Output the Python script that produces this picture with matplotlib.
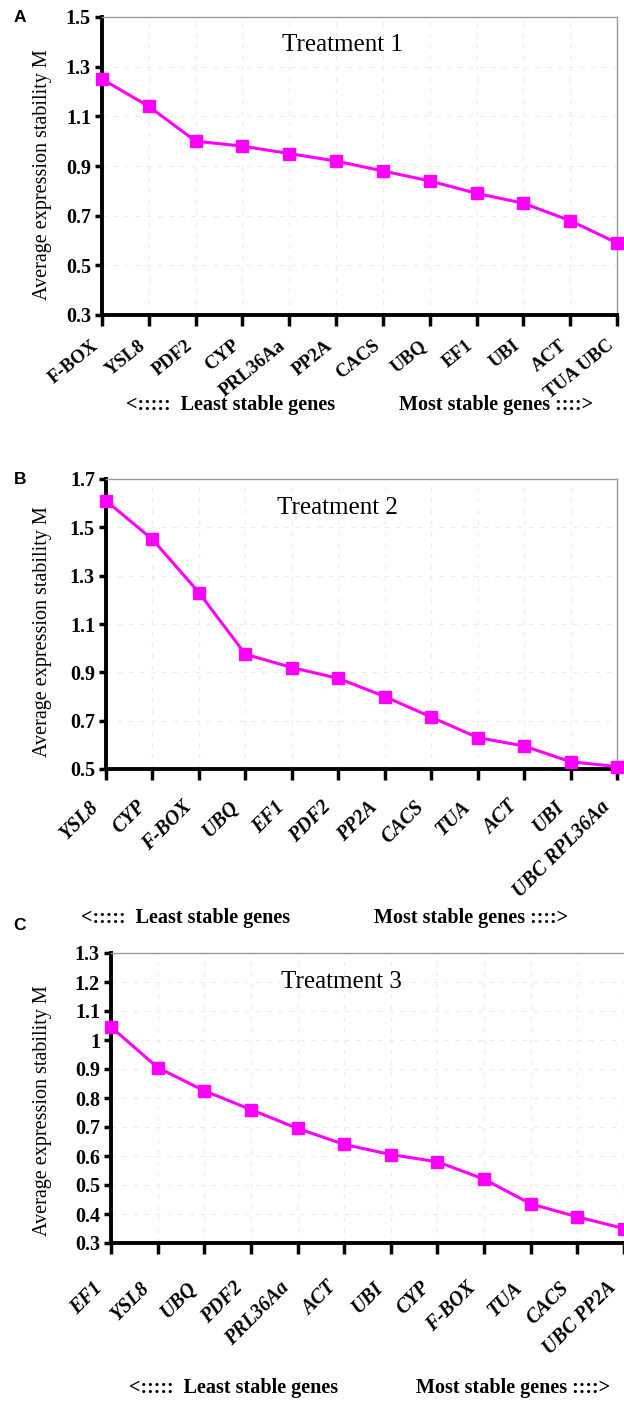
import matplotlib
matplotlib.use("Agg")
import matplotlib.pyplot as plt
import matplotlib.transforms as mtransforms

# ---------------- data ----------------
genes_a = ["F-BOX", "YSL8", "PDF2", "CYP", "PRL36Aa", "PP2A", "CACS", "UBQ", "EF1", "UBI", "ACT", "TUA UBC"]
m_a = [1.25, 1.14, 1.00, 0.98, 0.95, 0.92, 0.88, 0.84, 0.79, 0.75, 0.68, 0.59]
yticks_a = [0.3, 0.5, 0.7, 0.9, 1.1, 1.3, 1.5]
ylabels_a = ["0.3", "0.5", "0.7", "0.9", "1.1", "1.3", "1.5"]

genes_b = ["YSL8", "CYP", "F-BOX", "UBQ", "EF1", "PDF2", "PP2A", "CACS", "TUA", "ACT", "UBI", "UBC RPL36Aa"]
m_b = [1.61, 1.45, 1.23, 0.975, 0.92, 0.875, 0.80, 0.715, 0.63, 0.595, 0.53, 0.51]
yticks_b = [0.5, 0.7, 0.9, 1.1, 1.3, 1.5, 1.7]
ylabels_b = ["0.5", "0.7", "0.9", "1.1", "1.3", "1.5", "1.7"]

genes_c = ["EF1", "YSL8", "UBQ", "PDF2", "PRL36Aa", "ACT", "UBI", "CYP", "F-BOX", "TUA", "CACS", "UBC PP2A"]
m_c = [1.045, 0.905, 0.825, 0.76, 0.695, 0.64, 0.605, 0.58, 0.52, 0.435, 0.39, 0.35]
yticks_c = [0.3, 0.4, 0.5, 0.6, 0.7, 0.8, 0.9, 1.0, 1.1, 1.2, 1.3]
ylabels_c = ["0.3", "0.4", "0.5", "0.6", "0.7", "0.8", "0.9", "1", "1.1", "1.2", "1.3"]

titles = ["Treatment 1", "Treatment 2", "Treatment 3"]
panel_letters = ["A", "B", "C"]
ylabel_text = "Average expression stability M"
least_text = "<:::::  Least stable genes"
most_text = "Most stable genes ::::>"

# ---------------- figure ----------------
W, H = 624, 1401
fig = plt.figure(figsize=(W / 100, H / 100), dpi=100)
SERIF = ["Liberation Serif", "DejaVu Serif"]
SANS = ["Liberation Sans", "DejaVu Sans"]
MAG = "#FF00FF"


def fx(px):
    return px / W


def fy(py):
    return 1 - py / H


panels = [
    dict(genes=genes_a, vals=m_a, yt=yticks_a, yl=ylabels_a, ylim=(0.3, 1.5),
         box=(102, 17, 617, 315), style="normal", lab_off=(-11, -22), rot=39, lfs=13.5,
         title_xy=(0.466, 0.905),
         letter_y=18, ylab_y=175, ann_y=405, ann_x=(231, 496), right=True),
    dict(genes=genes_b, vals=m_b, yt=yticks_b, yl=ylabels_b, ylim=(0.5, 1.7),
         box=(106, 479, 617, 769), style="italic", lab_off=(-17, -28), rot=45, lfs=14.5,
         title_xy=(0.452, 0.9),
         letter_y=480, ylab_y=632, ann_y=918, ann_x=(186, 471), right=True),
    dict(genes=genes_c, vals=m_c, yt=yticks_c, yl=ylabels_c, ylim=(0.3, 1.3),
         box=(111, 953, 624, 1243), style="italic", lab_off=(-18, -35), rot=45, lfs=14.5,
         title_xy=(0.45, 0.9),
         letter_y=925, ylab_y=1111, ann_y=1388, ann_x=(234, 513), right=False),
]

for i, p in enumerate(panels):
    x0, y0, x1, y1 = p["box"]
    ax = fig.add_axes([fx(x0), fy(y1), (x1 - x0) / W, (y1 - y0) / H])
    xs = list(range(len(p["genes"])))
    ax.plot(xs, p["vals"], color=MAG, lw=2.2, marker="s", ms=8.5,
            mec=MAG, mfc=MAG, clip_on=False, zorder=5)
    ax.set_xlim(0, len(xs) - 1)
    ax.set_ylim(*p["ylim"])
    ax.set_yticks(p["yt"])
    ax.set_yticklabels(p["yl"], fontfamily=SERIF, fontweight="bold", fontsize=14.5)
    ax.set_xticks(xs)
    ax.set_xticklabels([])
    trans = mtransforms.blended_transform_factory(ax.transData, ax.transAxes) + \
        mtransforms.ScaledTranslation(p["lab_off"][0] / 100, p["lab_off"][1] / 100, fig.dpi_scale_trans)
    for xv, g in zip(xs, p["genes"]):
        ax.text(xv, 0, g, transform=trans, fontfamily=SERIF, fontweight="bold",
                fontstyle=p["style"], fontsize=p["lfs"], rotation=p["rot"],
                ha="right", va="top", rotation_mode="anchor", clip_on=False)
    ax.tick_params(axis="y", direction="out", length=5, width=2.5, pad=3, color="black")
    ax.tick_params(axis="x", direction="out", length=8, width=2.5, color="black")
    for s in ["left", "bottom"]:
        ax.spines[s].set_linewidth(2.8)
        ax.spines[s].set_color("black")
    for s in ["top", "right"]:
        ax.spines[s].set_linewidth(1.0)
        ax.spines[s].set_color("#999999")
    if not p["right"]:
        ax.spines["right"].set_visible(False)
    ax.grid(True, color="#ebebeb", lw=0.8, ls=(0, (4, 6)))
    ax.set_axisbelow(True)
    ax.text(p["title_xy"][0], p["title_xy"][1], titles[i], transform=ax.transAxes,
            ha="center", va="center", fontfamily=SERIF, fontsize=18)
    fig.text(fx(20), fy(p["letter_y"]), panel_letters[i], ha="center", va="center",
             fontfamily=SANS, fontweight="bold", fontsize=12.5)
    fig.text(fx(43), fy(p["ylab_y"]), ylabel_text, rotation=90, ha="center", va="center",
             fontfamily=SERIF, fontsize=14.5)
    fig.text(fx(p["ann_x"][0]), fy(p["ann_y"]), least_text, ha="center", va="center",
             fontfamily=SERIF, fontweight="bold", fontsize=14.5)
    fig.text(fx(p["ann_x"][1]), fy(p["ann_y"]), most_text, ha="center", va="center",
             fontfamily=SERIF, fontweight="bold", fontsize=14.5)

fig.savefig("out.png", dpi=100)
